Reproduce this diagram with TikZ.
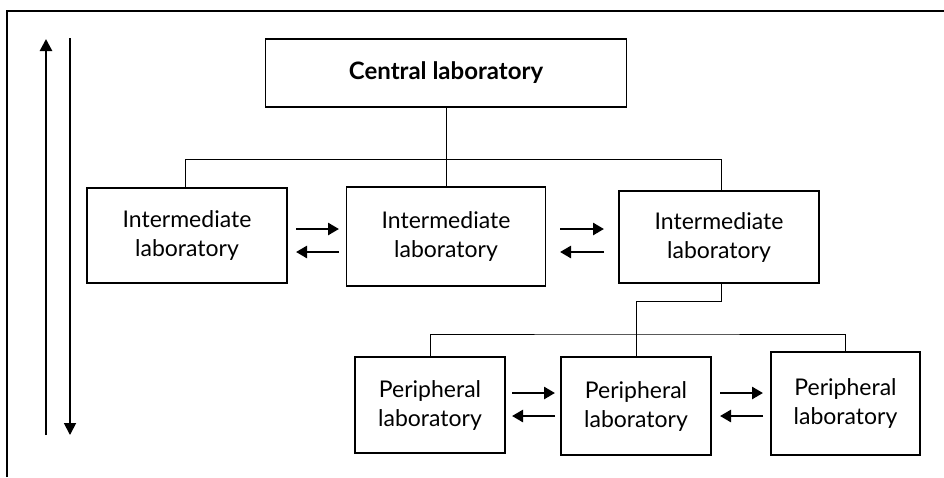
\documentclass[tikz,border=0pt]{standalone}
\usepackage{fontspec}
\setmainfont{Lato}
\usetikzlibrary{arrows.meta}
\begin{document}
\begin{tikzpicture}[x=1pt,y=-1pt,
  lab/.style={draw,line width=1.5pt,align=center,inner sep=0pt,
    font=\fontsize{23}{29}\selectfont},
  conn/.style={line width=1pt},
  flow/.style={line width=2.6pt,-{Triangle[length=11pt,width=12pt]}},
  tall/.style={line width=2.6pt,-{Triangle[length=12pt,width=12pt]}}]
\useasboundingbox (0,0) rectangle (944,477);
\draw[line width=1.4pt] (7,477) -- (7,11) -- (944,11);
% tall arrows
\coordinate (ua0) at (46,435); \coordinate (ua1) at (46,39);
\coordinate (da0) at (70,38); \coordinate (da1) at (70,435);
\draw[tall] (ua0) -- (ua1);
\draw[tall,line width=1.8pt] (da0) -- (da1);
% boxes
\node[lab,minimum width=361pt,minimum height=68pt,font=\fontsize{24}{28}\selectfont\bfseries] (c) at (446,73) {Central laboratory};
\node[lab,minimum width=200pt,minimum height=95pt] (i1) at (187,235.5) {Intermediate\\laboratory};
\node[lab,minimum width=199pt,minimum height=99pt] (i2) at (446,236.5) {Intermediate\\laboratory};
\node[lab,minimum width=200pt,minimum height=92pt] (i3) at (719,237) {Intermediate\\laboratory};
\node[lab,minimum width=150pt,minimum height=96pt] (p1) at (430,405) {Peripheral\\laboratory};
\node[lab,minimum width=150pt,minimum height=98pt] (p2) at (636,406) {Peripheral\\laboratory};
\node[lab,minimum width=149pt,minimum height=103pt] (p3) at (845.5,403.5) {Peripheral\\laboratory};
% tree connectors
\coordinate (h0) at (185,159);
\coordinate (h2) at (721,159);
\draw[conn] (c.south) -- (i2.north);
\draw[conn] (h0 |- i1.north) -- (h0) -- (h2) -- (h2 |- i3.north);
\coordinate (k0) at (721,283);
\coordinate (k1) at (721,301);
\coordinate (k3) at (636,301);
\coordinate (k2) at (636,334);
\draw[conn] (k0) -- (k1) -- (k3) -- (p2.north);
\draw[conn] (p1.north) |- (k2) -| (p3.north);
% horizontal flow arrows
\coordinate (a1) at (296,229); \coordinate (a2) at (339,229);
\coordinate (a3) at (296,252); \coordinate (a4) at (339,252);
\coordinate (b1) at (560,229); \coordinate (b2) at (604,229);
\coordinate (b3) at (560,252); \coordinate (b4) at (604,252);
\coordinate (c1) at (512,393); \coordinate (c2) at (555,393);
\coordinate (c3) at (512,416); \coordinate (c4) at (555,416);
\coordinate (d1) at (720,393); \coordinate (d2) at (763,393);
\coordinate (d3) at (720,416); \coordinate (d4) at (763,416);
\draw[flow] (a1) -- (a2); \draw[flow] (a4) -- (a3);
\draw[flow] (b1) -- (b2); \draw[flow] (b4) -- (b3);
\draw[flow] (c1) -- (c2); \draw[flow] (c4) -- (c3);
\draw[flow] (d1) -- (d2); \draw[flow] (d4) -- (d3);
\end{tikzpicture}
\end{document}
